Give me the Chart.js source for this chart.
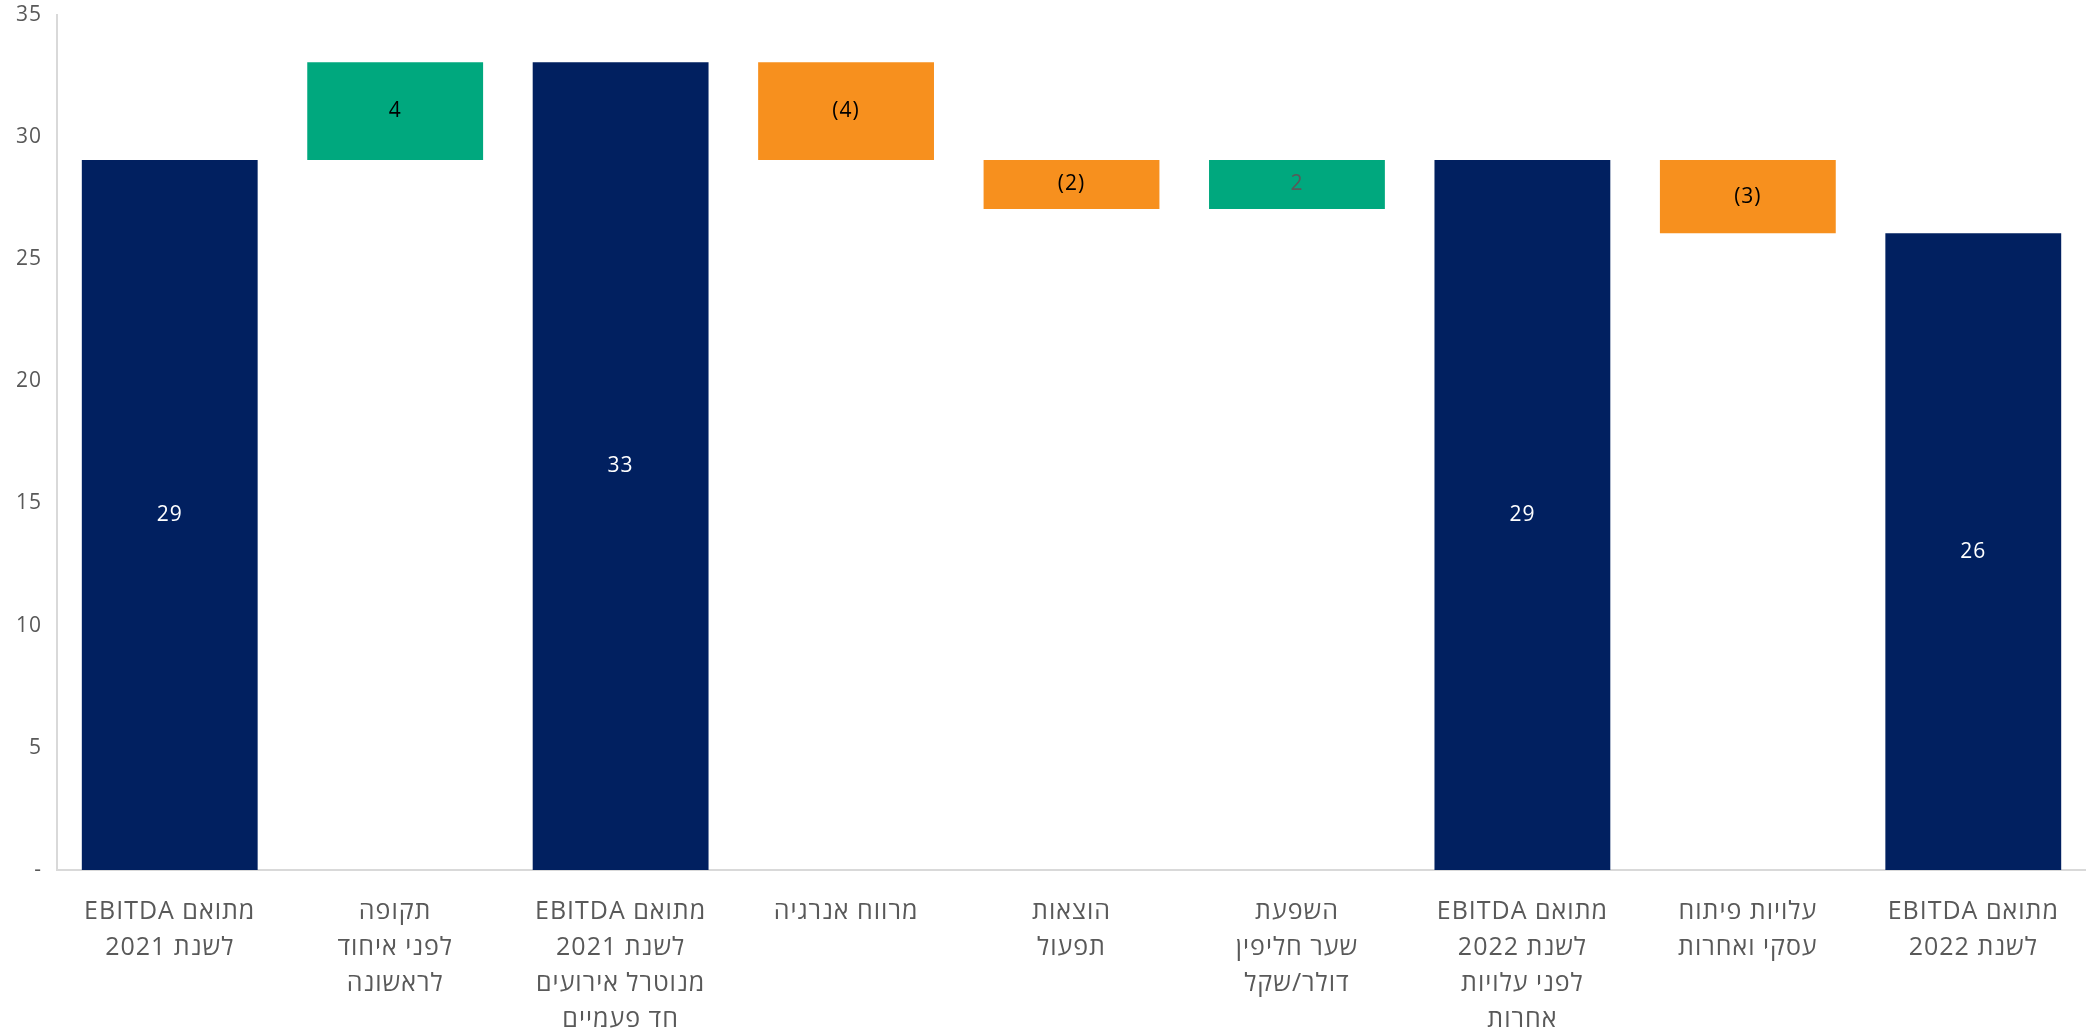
<!DOCTYPE html>
<html>

<head>
  <meta charset="utf-8">
  <title>EBITDA waterfall</title>
  <script src="https://cdn.jsdelivr.net/npm/chart.js"></script>
  <style>
    html, body { margin: 0; padding: 0; background: #fff; overflow: hidden; }
    #wrap { width: 2086px; height: 1043px; margin-top: -13px; }
    canvas { direction: rtl; }
  </style>
</head>

<body>
  <div id="wrap"><canvas id="myChart" dir="rtl"></canvas></div>
  <script>
    // קטגוריות (כל שורה בתווית בנפרד)
    const categories = [
      ['מתואם EBITDA', 'לשנת 2021'],
      ['תקופה', 'לפני איחוד', 'לראשונה'],
      ['מתואם EBITDA', 'לשנת 2021', 'מנוטרל אירועים', 'חד פעמיים'],
      ['מרווח אנרגיה'],
      ['הוצאות', 'תפעול'],
      ['השפעת', 'שער חליפין', 'דולר/שקל'],
      ['מתואם EBITDA', 'לשנת 2022', 'לפני עלויות', 'אחרות'],
      ['עלויות פיתוח', 'עסקי ואחרות'],
      ['מתואם EBITDA', 'לשנת 2022']
    ];
    // ערכים: סה"כ = גובה מלא, שינוי = תוספת/הפחתה
    const values = [29.05, 4, 33.05, -4, -2, 2, 29.05, -3, 26.05];
    const isTotal = [true, false, true, false, false, false, true, false, true];
    const yTicks = [0, 5, 10, 15, 20, 25, 30, 35];

    const NAVY = '#012060', GREEN = '#00A87E', ORANGE = '#F7901E', GREY = '#595959';

    // בניית עמודות צפות מהערכים
    let running = 0;
    const ranges = values.map((v, i) => {
      if (isTotal[i]) { running = v; return [0, v]; }
      const from = running;
      running += v;
      return [from, running];
    });
    const colors = values.map((v, i) => isTotal[i] ? NAVY : (v >= 0 ? GREEN : ORANGE));
    const labelColors = values.map((v, i) => isTotal[i] ? '#ffffff' : (i === 5 ? GREY : '#000000'));

    const valueLabels = {
      id: 'valueLabels',
      beforeDraw(chart) {
        chart.ctx.letterSpacing = '1px';
      },
      afterDatasetsDraw(chart) {
        const ctx = chart.ctx;
        const meta = chart.getDatasetMeta(0);
        ctx.save();
        ctx.font = '21px "Open Sans", "DejaVu Sans", sans-serif';
        ctx.textAlign = 'center';
        ctx.textBaseline = 'middle';
        meta.data.forEach((bar, i) => {
          const v = Math.round(values[i]);
          const txt = v < 0 ? '(' + Math.abs(v) + ')' : String(v);
          ctx.fillStyle = labelColors[i];
          ctx.fillText(txt, bar.x, (bar.y + bar.base) / 2);
        });
        ctx.restore();
      }
    };

    Chart.defaults.font.family = '"Open Sans", "DejaVu Sans", sans-serif';
    Chart.defaults.color = GREY;

    const ctx = document.getElementById('myChart').getContext('2d');
    const chart = new Chart(ctx, {
      type: 'bar',
      data: {
        labels: categories,
        datasets: [{
          data: ranges,
          backgroundColor: colors,
          borderWidth: 0,
          categoryPercentage: 1,
          barPercentage: 0.78
        }]
      },
      options: {
        animation: false,
        responsive: true,
        maintainAspectRatio: false,
        layout: { padding: { left: 3, right: 0, top: 0, bottom: 0 } },
        plugins: {
          legend: { display: false },
          tooltip: { enabled: false }
        },
        scales: {
          x: {
            grid: { display: false, drawTicks: false },
            border: { color: '#D9D9D9', width: 2 },
            ticks: {
              font: { size: 25, lineHeight: 1.44 },
              color: GREY,
              padding: 24,
              maxRotation: 0,
              autoSkip: false
            },
            afterFit(scale) { scale.height = 160; }
          },
          y: {
            min: 0,
            max: 35,
            afterBuildTicks(scale) { scale.ticks = yTicks.map(v => ({ value: v })); },
            grid: { display: false, drawTicks: false },
            border: { color: '#D9D9D9', width: 2 },
            ticks: {
              font: { size: 21 },
              color: GREY,
              padding: 15,
              callback: v => v === 0 ? '-' : v
            }
          }
        }
      },
      plugins: [valueLabels]
    });
  </script>
</body>

</html>
